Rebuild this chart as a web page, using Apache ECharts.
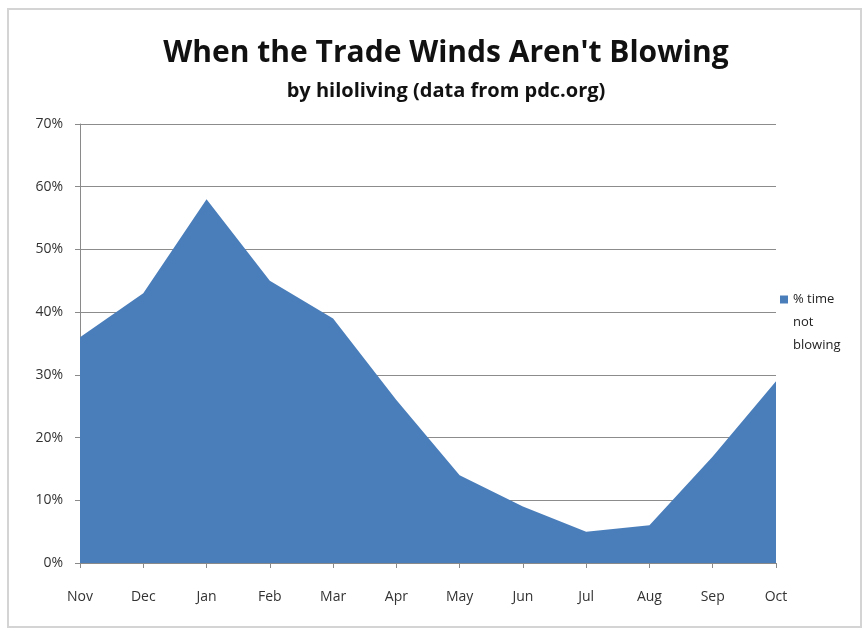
<!DOCTYPE html>
<html lang="en">
<head>
    <meta charset="UTF-8">
    <title>When the Trade Winds Aren't Blowing</title>
    <script src="https://cdn.jsdelivr.net/npm/echarts@6/dist/echarts.min.js"></script>
    <style>
        html, body { margin: 0; padding: 0; background: #fff; }
        #frame {
            position: absolute; left: 7px; top: 8px; width: 851px; height: 616px;
            border: 2px solid #d4d4d4; background: #fff;
        }
        #chart { position: absolute; left: -9px; top: -10px; width: 866px; height: 632px; }
    </style>
    <script type="text/javascript">
        const months = ["Nov", "Dec", "Jan", "Feb", "Mar", "Apr", "May", "Jun", "Jul", "Aug", "Sep", "Oct"];
        // % of time the trade winds are not blowing
        const not_blowing = [36, 43, 58, 45, 39, 26, 14, 9, 5, 6, 17, 29];
        const y_ticks = [0, 10, 20, 30, 40, 50, 60, 70];

        const font = "'Open Sans', Lato, sans-serif";

        function init_chart() {
            const chart = echarts.init(document.getElementById("chart"));
            const option = {
                animation: false,
                title: {
                    text: "When the Trade Winds Aren't Blowing",
                    subtext: "by hiloliving (data from pdc.org)",
                    left: 441,
                    textAlign: "center",
                    top: 33,
                    itemGap: 13,
                    textStyle: { fontFamily: font, fontSize: 30, fontWeight: "bold", color: "#111" },
                    subtextStyle: { fontFamily: font, fontSize: 20, fontWeight: "bold", color: "#111" }
                },
                legend: {
                    left: 775,
                    top: 237,
                    orient: "vertical",
                    itemWidth: 8,
                    itemHeight: 8,
                    icon: "rect",
                    // two blank lines before the text keep the icon level with the first line
                    formatter: () => " \n \n% time\nnot\nblowing",
                    textStyle: { fontFamily: font, fontSize: 13, color: "#222", lineHeight: 23 },
                    data: ["% time not blowing"]
                },
                grid: { left: 80, right: 90, top: 124, bottom: 69 },
                xAxis: {
                    type: "category",
                    data: months,
                    boundaryGap: false,
                    axisLine: { lineStyle: { color: "#8a8a8a", width: 1 } },
                    axisTick: { show: true, length: 5, lineStyle: { color: "#8a8a8a" } },
                    axisLabel: { fontFamily: font, fontSize: 14, color: "#333", margin: 27 }
                },
                yAxis: {
                    type: "value",
                    min: y_ticks[0],
                    max: y_ticks[y_ticks.length - 1],
                    interval: 10,
                    axisLine: { show: true, lineStyle: { color: "#8a8a8a", width: 1 } },
                    axisTick: { show: true, length: 5, lineStyle: { color: "#8a8a8a" } },
                    axisLabel: { fontFamily: font, fontSize: 14, color: "#333", margin: 17, formatter: "{value}%" },
                    splitLine: { show: true, lineStyle: { color: "#8c8c8c", width: 1 } }
                },
                series: [{
                    name: "% time not blowing",
                    type: "line",
                    data: not_blowing,
                    showSymbol: false,
                    symbol: "none",
                    itemStyle: { color: "#4A7EBB" },
                    lineStyle: { width: 0, color: "#4A7EBB" },
                    areaStyle: { color: "#4A7EBB", opacity: 1 }
                }]
            };
            chart.setOption(option);
        }

        window.addEventListener("load", init_chart);
    </script>
</head>
<body>
<div id="frame"><div id="chart"></div></div>
</body>
</html>
